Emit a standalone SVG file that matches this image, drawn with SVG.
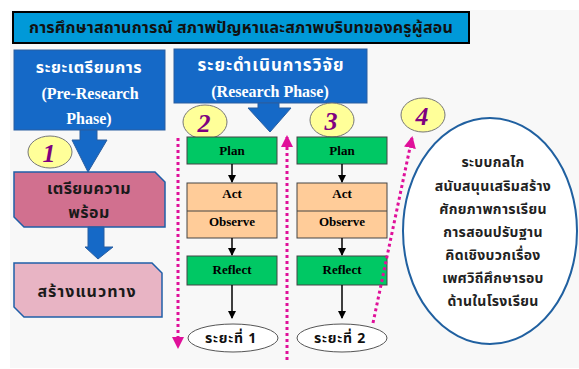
<svg xmlns="http://www.w3.org/2000/svg" width="579" height="369" viewBox="0 0 579 369">
<defs>
<style>
.th{font-family:"Noto Sans Thai","Noto Sans","Liberation Sans",sans-serif;font-weight:bold;text-anchor:middle}
.en{font-family:"Liberation Serif",serif;font-weight:bold;text-anchor:middle}
.num{font-family:"Liberation Serif",serif;font-weight:bold;font-style:italic;fill:#800080;text-anchor:middle;font-size:26px}
.blue{fill:#1569c7;stroke:#2a5ea0;stroke-width:1}
.green{fill:#00c864;stroke:#444;stroke-width:1}
.peach{fill:#ffcc99;stroke:#444;stroke-width:1}
.badge{fill:#ffff99;stroke:#777;stroke-width:1}
.dot{stroke:#e0109a;stroke-width:3;stroke-dasharray:3 3;fill:none}
.blk{stroke:#000;stroke-width:1.5;fill:none}
</style>
<marker id="ah" markerWidth="8" markerHeight="8" refX="7" refY="4" orient="auto" markerUnits="userSpaceOnUse"><path d="M0,0 L8,4 L0,8 Z" fill="#000"/></marker>
<marker id="pm" markerWidth="12" markerHeight="12" refX="10" refY="6" orient="auto" markerUnits="userSpaceOnUse"><path d="M0,0 L12,6 L0,12 Z" fill="#e0109a"/></marker>
</defs>
<rect x="0" y="0" width="579" height="369" fill="#ffffff"/>
<rect x="10" y="10" width="569" height="358" fill="#f8f8f8"/>

<g id="title">
<rect x="13" y="12" width="456" height="31" fill="#0099d8" stroke="#000" stroke-width="2"/>
<text x="241" y="33" class="th" font-size="16" fill="#111" letter-spacing="0.2">การศึกษาสถานการณ์ สภาพปัญหาและสภาพบริบทของครูผู้สอน</text>
</g>

<g id="pre-research">
<rect x="14" y="50" width="151" height="80" class="blue"/>
<text x="89" y="73" class="th" font-size="16" fill="#fff" letter-spacing="0.6">ระยะเตรียมการ</text>
<text x="90" y="99" class="en" font-size="16" fill="#fff">(Pre-Research</text>
<text x="89" y="124" class="en" font-size="16" fill="#fff">Phase)</text>
<path d="M80,130 L97,130 L97,140 L107,140 L88,172 L72,140 L80,140 Z" fill="#1569c7" stroke="#2a5ea0"/>
</g>

<g id="badge1">
<ellipse cx="50" cy="152" rx="22" ry="16" class="badge"/>
<text x="49" y="162" class="num">1</text>
</g>

<g id="prepare">
<path d="M14,172 L155,172 L165,182 L165,227 L24,227 L14,217 Z" fill="#d1708f" stroke="#1f5fa8" stroke-width="1.5"/>
<text x="89" y="194" class="th" font-size="16" fill="#1a1a1a" letter-spacing="0.4">เตรียมความ</text>
<text x="89" y="218" class="th" font-size="16" fill="#1a1a1a" letter-spacing="0.4">พร้อม</text>
<path d="M88,227 L104,227 L104,247 L113,247 L98,259 L85,247 L88,247 Z" fill="#1569c7" stroke="#2a5ea0"/>
</g>

<g id="guideline">
<path d="M14,263 L152,263 L162,273 L162,317 L24,317 L14,307 Z" fill="#e8b4c4" stroke="#1f5fa8" stroke-width="1.5"/>
<text x="87" y="297" class="th" font-size="16" fill="#1a1a1a" letter-spacing="1">สร้างแนวทาง</text>
</g>

<g id="research">
<rect x="174" y="49" width="193" height="54" class="blue"/>
<text x="271" y="71" class="th" font-size="17" fill="#fff" letter-spacing="1">ระยะดำเนินการวิจัย</text>
<text x="270" y="97" class="en" font-size="16" fill="#fff">(Research Phase)</text>
<path d="M258,103 L279,103 L279,108 L291,108 L270,132 L248,108 L258,108 Z" fill="#1569c7" stroke="#2a5ea0"/>
</g>

<g id="badge2">
<ellipse cx="205" cy="122" rx="22" ry="17" class="badge"/>
<text x="204" y="132" class="num">2</text>
</g>
<g id="badge3">
<ellipse cx="332" cy="120" rx="22" ry="17" class="badge"/>
<text x="331" y="130" class="num">3</text>
</g>
<g id="badge4">
<ellipse cx="423" cy="115" rx="22" ry="17" class="badge"/>
<text x="422" y="125" class="num">4</text>
</g>

<g id="plan1"><rect x="187" y="137" width="90" height="27" class="green"/><text x="232" y="155" class="en" font-size="13">Plan</text></g>
<g id="actobs1"><rect x="187" y="183" width="90" height="55" class="peach"/><line x1="187" y1="211" x2="277" y2="211" stroke="#444"/><text x="232" y="198" class="en" font-size="13">Act</text><text x="232" y="226" class="en" font-size="13">Observe</text></g>
<g id="reflect1"><rect x="187" y="256" width="90" height="29" class="green"/><text x="232" y="274" class="en" font-size="13">Reflect</text></g>
<g id="phase1"><ellipse cx="233" cy="338" rx="45" ry="14" fill="#fff" stroke="#555"/><text x="231" y="343" class="th" font-size="14" fill="#111" letter-spacing="0.8">ระยะที่ 1</text></g>

<g id="plan2"><rect x="297" y="137" width="90" height="27" class="green"/><text x="342" y="155" class="en" font-size="13">Plan</text></g>
<g id="actobs2"><rect x="297" y="183" width="90" height="55" class="peach"/><line x1="297" y1="211" x2="387" y2="211" stroke="#444"/><text x="342" y="198" class="en" font-size="13">Act</text><text x="342" y="226" class="en" font-size="13">Observe</text></g>
<g id="reflect2"><rect x="297" y="256" width="90" height="29" class="green"/><text x="342" y="274" class="en" font-size="13">Reflect</text></g>
<g id="phase2"><ellipse cx="342" cy="338" rx="45" ry="14" fill="#fff" stroke="#555"/><text x="340" y="343" class="th" font-size="14" fill="#111" letter-spacing="0.8">ระยะที่ 2</text></g>

<g id="mechanism">
<ellipse cx="490" cy="231" rx="87" ry="113" fill="#fff" stroke="#2060a0" stroke-width="2"/>
<g class="th" font-size="14" fill="#222" letter-spacing="0.3">
<text x="493" y="167">ระบบกลไก</text>
<text x="493" y="191">สนับสนุนเสริมสร้าง</text>
<text x="493" y="214">ศักยภาพการเรียน</text>
<text x="493" y="237">การสอนปรับฐาน</text>
<text x="493" y="260">คิดเชิงบวกเรื่อง</text>
<text x="493" y="283">เพศวิถีศึกษารอบ</text>
<text x="493" y="306">ด้านในโรงเรียน</text>
</g>
</g>

<g id="connectors">
<line x1="232" y1="164" x2="232" y2="182" class="blk" marker-end="url(#ah)"/>
<line x1="232" y1="238" x2="232" y2="255" class="blk" marker-end="url(#ah)"/>
<line x1="232" y1="285" x2="232" y2="318" class="blk" marker-end="url(#ah)"/>
<line x1="342" y1="164" x2="342" y2="182" class="blk" marker-end="url(#ah)"/>
<line x1="342" y1="238" x2="342" y2="255" class="blk" marker-end="url(#ah)"/>
<line x1="342" y1="285" x2="342" y2="318" class="blk" marker-end="url(#ah)"/>
<line x1="178" y1="138" x2="178" y2="347" class="dot" marker-end="url(#pm)"/>
<line x1="287" y1="360" x2="287" y2="137" class="dot" marker-end="url(#pm)"/>
<line x1="373" y1="323" x2="412" y2="138" class="dot" marker-end="url(#pm)"/>
</g>
</svg>
